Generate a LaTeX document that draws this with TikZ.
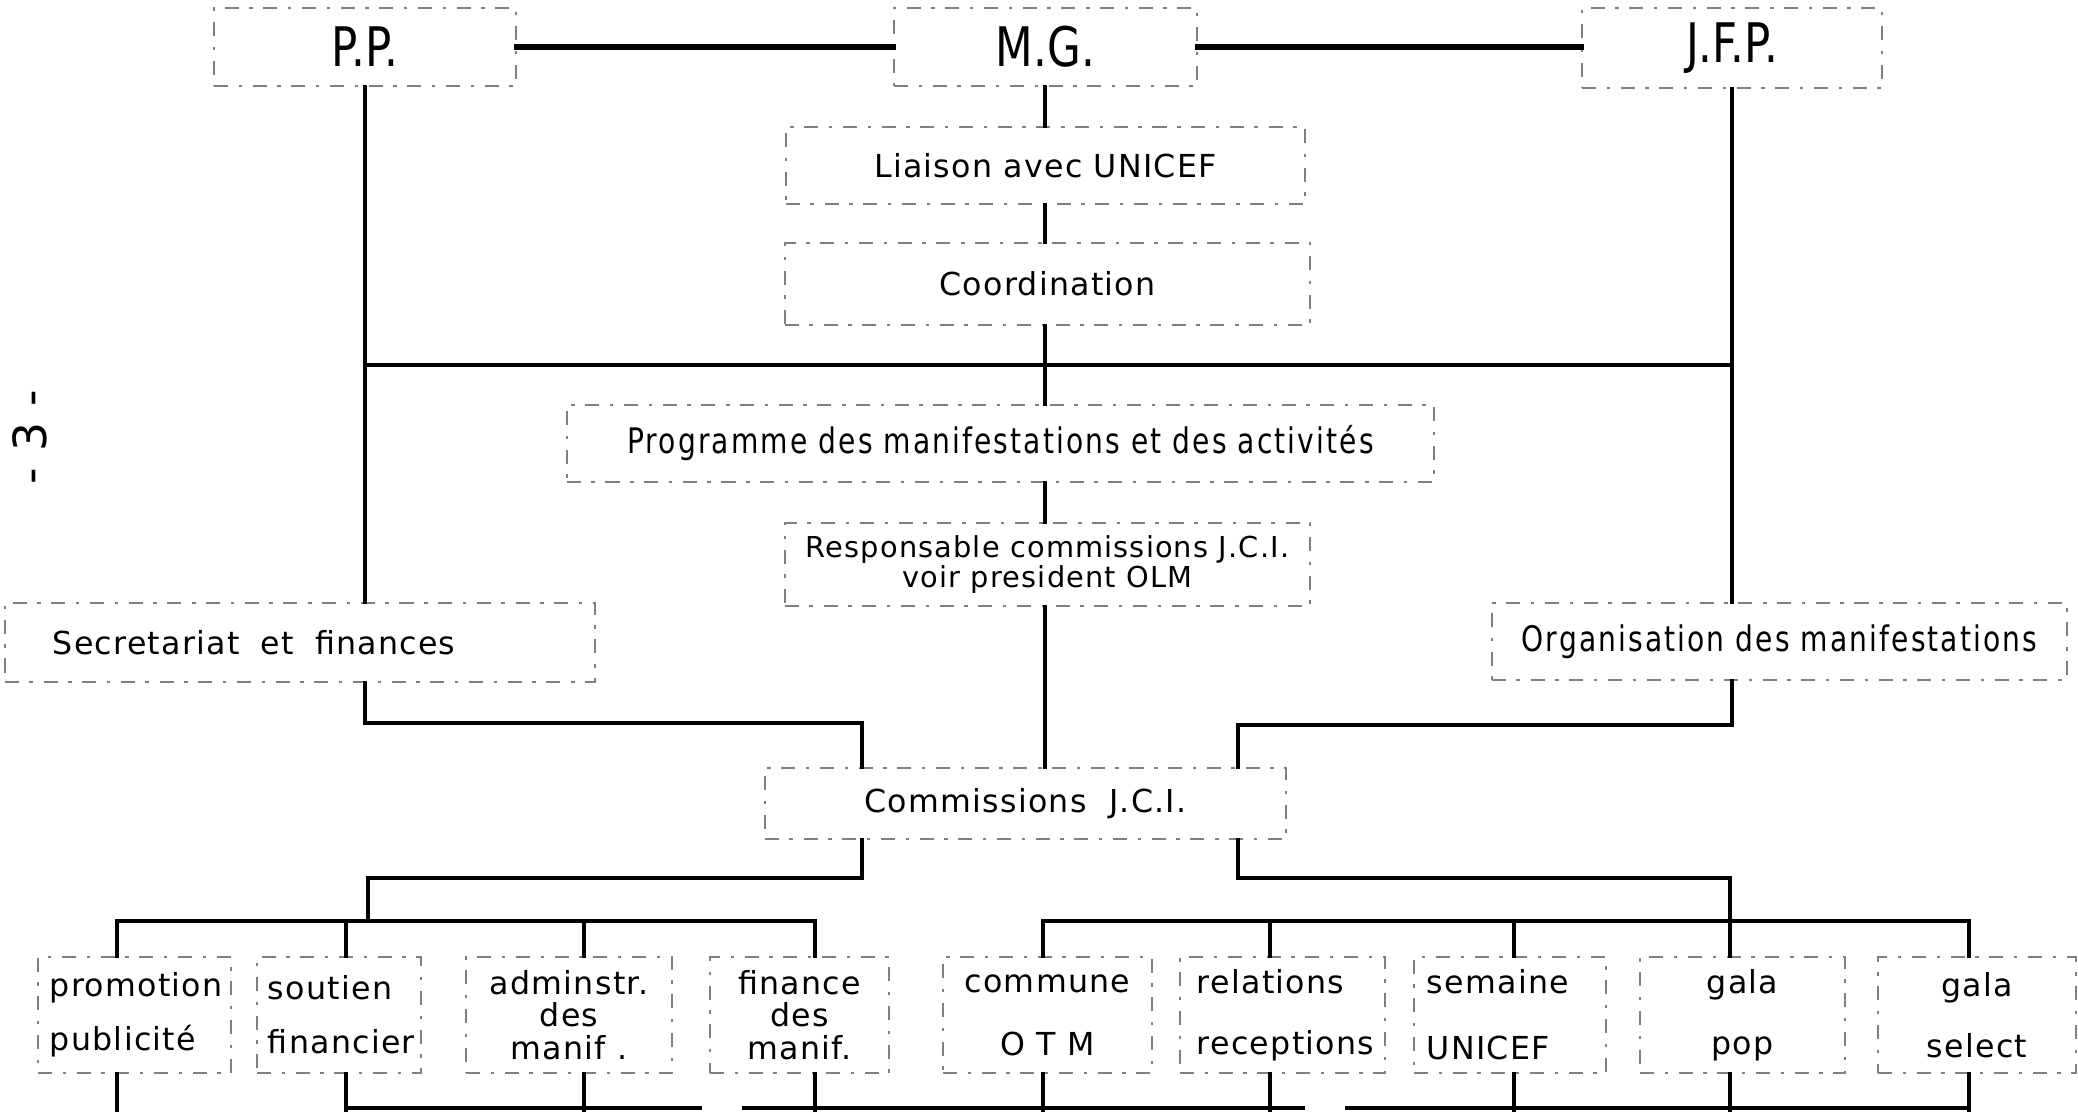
\documentclass[tikz,border=0pt]{standalone}
\usepackage{fontspec}
\setmainfont{DejaVu Sans}[LetterSpace=4]
\newfontfamily\headfont{DejaVu Sans}[FakeStretch=0.8]
\newfontfamily\narrowfont{DejaVu Sans}[FakeStretch=0.8,LetterSpace=6]
\usetikzlibrary{calc}

\tikzset{
	box/.style={draw=black!50, line width=0.45pt, dash pattern=on 4pt off 3pt on 1pt off 3pt,
		inner xsep=0pt, inner ysep=0pt, align=center, font=\fontsize{9}{11}\selectfont},
	lbox/.style={box, align=left},
	head/.style={box, font=\headfont\fontsize{15.5}{18}\selectfont},
	link/.style={line width=1.2pt, line cap=rect},
	toplink/.style={link, line width=1.6pt},
}

\begin{document}
\begin{tikzpicture}[x=0.01cm, y=-0.01cm]
		%%%%% START %%%%%
		\useasboundingbox (0,0) rectangle (2078,1111);
		
		% page number
		\node[rotate=90, font=\fontsize{13}{15}\selectfont] (page) at (30,437) {- 3 -};
		
		% top row
		\node[head, minimum width=3.02cm, minimum height=0.78cm] (pp) at (365,47) {P.P.};
		\node[head, minimum width=3.03cm, minimum height=0.78cm] (mg) at (1045.5,47) {M.G.};
		\node[head, minimum width=3.00cm, minimum height=0.80cm] (jfp) at (1732,48) {J.F.P.};
		
		% centre column
		\node[box, minimum width=5.19cm, minimum height=0.77cm] (liaison) at (1045.5,165.5) {Liaison avec UNICEF};
		\node[box, minimum width=5.25cm, minimum height=0.82cm] (coord) at (1047.5,284) {Coordination};
		\node[box, minimum width=8.67cm, minimum height=0.77cm, font=\narrowfont\fontsize{10}{12}\selectfont] (prog) at (1000.5,443.5) {Programme des manifestations et des activités};
		\node[box, minimum width=5.25cm, minimum height=0.83cm, font=\fontsize{8.2}{8.8}\selectfont] (resp) at (1047.5,564.5) {Responsable commissions J.C.I.\\voir president OLM};
		
		% side boxes
		\node[lbox, inner xsep=0.48cm, text width=4.94cm, minimum height=0.79cm] (secr) at (300,642.5) {Secretariat~ et~ finances};
		\node[box, minimum width=5.75cm, minimum height=0.77cm, font=\narrowfont\fontsize{10}{12}\selectfont] (org) at (1779.5,641.5) {Organisation des manifestations};
		
		\node[box, minimum width=5.21cm, minimum height=0.71cm] (comm) at (1025.5,803.5) {Commissions~ J.C.I.};
		
		% bottom row
		\node[lbox, inner xsep=0.12cm, text width=1.69cm, minimum height=1.16cm] (prom) at (134.5,1015) {promotion\\[4.4pt]publicité};
		\node[lbox, inner xsep=0.11cm, text width=1.42cm, minimum height=1.16cm] (sout) at (339,1015) {soutien\\[4.4pt]financier};
		\node[box, minimum width=2.06cm, minimum height=1.16cm] (adm) at (569,1015) {adminstr.\\[-1.7pt]des\\[-1.7pt]manif .};
		\node[box, minimum width=1.79cm, minimum height=1.16cm] (fin) at (799.5,1015) {finance\\[-1.7pt]des\\[-1.7pt]manif.};
		\node[box, minimum width=2.09cm, minimum height=1.16cm] (com) at (1047.5,1015) {commune\\[7pt]O T M};
		\node[lbox, inner xsep=0.17cm, text width=1.71cm, minimum height=1.16cm] (rel) at (1282.5,1015) {relations\\[6.4pt]receptions};
		\node[lbox, inner xsep=0.13cm, text width=1.66cm, minimum height=1.16cm] (sem) at (1510,1015) {semaine\\[7.8pt]UNICEF};
		\node[box, minimum width=2.05cm, minimum height=1.16cm] (pop) at (1742.5,1015) {gala\\[6.4pt]pop};
		\node[box, minimum width=1.98cm, minimum height=1.16cm] (sel) at (1977,1015) {gala\\[6.4pt]select};
		
		% connectors
		\coordinate (spine) at (1045,0);
		\coordinate (bar) at (0,365);
		\coordinate (cl) at (862,723);
		\coordinate (cr) at (1238,725);
		\coordinate (bl) at (368,878);
		\coordinate (br) at (1730,878);
		\coordinate (bus) at (0,921);
		\coordinate (foot) at (0,1108);
		
		\draw[toplink] (pp.east) -- (pp.east -| mg.west);
		\draw[toplink] (mg.east) -- (mg.east -| jfp.west);
		
		\foreach \a/\b in {mg/liaison, liaison/coord, coord/prog, prog/resp, resp/comm}
			\draw[link] (spine |- \a.south) -- (spine |- \b.north);
		
		\draw[link] (pp.south |- bar) -- (jfp.south |- bar);
		\draw[link] (pp.south) -- (pp.south |- secr.north);
		\draw[link] (jfp.south) -- (jfp.south |- org.north);
		
		\draw[link] (pp.south |- secr.south) |- (cl) -- (cl |- comm.north);
		\draw[link] (jfp.south |- org.south) |- (cr) -- (cr |- comm.north);
		
		\draw[link] (cl |- comm.south) |- (bl) -- (bl |- bus);
		\draw[link] (cr |- comm.south) |- (br) -- (br |- pop.north);
		
		\draw[link] (117,0 |- bus) -- (815,0 |- bus);
		\draw[link] (1043,0 |- bus) -- (1969,0 |- bus);
		
		\foreach \n/\x in {prom/117, sout/346, adm/584, fin/815, com/1043, rel/1270, sem/1514, pop/1730, sel/1969} {
			\draw[link] (\x,0 |- bus) -- (\x,0 |- \n.north);
			\draw[link] (\x,0 |- \n.south) -- (\x,1111);
		}
		
		\draw[link] (346,0 |- foot) -- (700,0 |- foot);
		\draw[link] (744,0 |- foot) -- (1303,0 |- foot);
		\draw[link] (1347,0 |- foot) -- (1969,0 |- foot);
		
		%%%%% END %%%%%
	\end{tikzpicture}
\end{document}
